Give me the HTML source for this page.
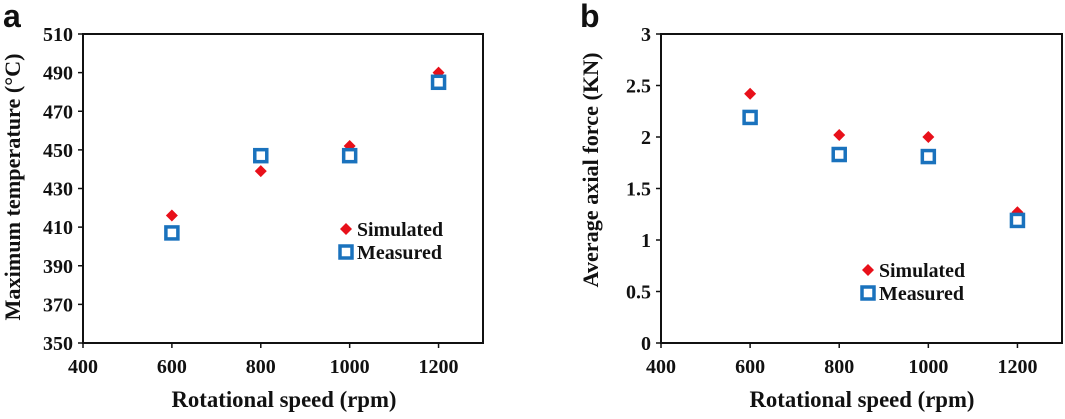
<!DOCTYPE html>
<html><head><meta charset="utf-8"><style>
body{margin:0;background:#fff;}
svg text{font-family:"Liberation Serif",serif;font-weight:bold;fill:#111;}
</style></head><body>
<svg id="c" width="1065" height="414" xmlns="http://www.w3.org/2000/svg"></svg>
<script>
const categories=[600,800,1000,1200];
const xTicks=[400,600,800,1000,1200];
const tempSim=[416,439,452,490];
const tempMeas=[407,447,447,485];
const tempTicks=[350,370,390,410,430,450,470,490,510];
const forceSim=[2.42,2.02,2.0,1.27];
const forceMeas=[2.19,1.83,1.81,1.19];
const forceTicks=[0,0.5,1,1.5,2,2.5,3];
const forceTickLabels=["0","0.5","1","1.5","2","2.5","3"];

const svg=document.getElementById('c');
const NS='http://www.w3.org/2000/svg';
function mk(tag,at,parent){const e=document.createElementNS(NS,tag);for(const k in at)e.setAttribute(k,at[k]);(parent||svg).appendChild(e);return e;}

function panel(o){
  const g=mk('g',{});
  
  
  const xs=v=>o.x0+(v-400)/(1300-400)*(o.x1-o.x0);
  const ys=v=>o.y1-(v-o.ymin)/(o.ymax-o.ymin)*(o.y1-o.y0);
  const fr=mk('rect',{x:o.x0,y:o.y0,width:o.x1-o.x0,height:o.y1-o.y0,fill:'none',stroke:'#111','stroke-width':2},g);
  
  
  o.yTicks.forEach((v,i)=>{
    mk('line',{x1:o.x0-5,x2:o.x0,y1:ys(v),y2:ys(v),stroke:'#111','stroke-width':1.5},g);
    const t=mk('text',{x:o.x0-10,y:ys(v)+7,'text-anchor':'end','font-size':20},g);
    t.textContent=o.yLabels?o.yLabels[i]:v;
    
    
  });
  xTicks.forEach(v=>{
    mk('line',{x1:xs(v),x2:xs(v),y1:o.y1,y2:o.y1+5,stroke:'#111','stroke-width':1.5},g);
    const t=mk('text',{x:xs(v),y:o.y1+30,'text-anchor':'middle','font-size':20},g);
    t.textContent=v;
    
    
  });
  const xt=mk('text',{x:o.xtc,y:407,'text-anchor':'middle','font-size':23,textLength:225,lengthAdjust:'spacingAndGlyphs'},g);
  xt.textContent='Rotational speed (rpm)';
  
  
  const cy=o.ytc;
  const yt=mk('text',{x:o.ytx,y:cy,'text-anchor':'middle','font-size':22,textLength:o.ytl,lengthAdjust:'spacingAndGlyphs',transform:`rotate(-90 ${o.ytx} ${cy})`},g);
  yt.textContent=o.ytitle;
  
  
  const lb=mk('text',{x:o.lx,y:27,'font-size':32,style:'font-family:"Liberation Sans",sans-serif;font-weight:bold'},g);
  lb.textContent=o.letter;
  
  
  const diamond=(x,y)=>mk('path',{d:`M${x} ${y-6}L${x+6} ${y}L${x} ${y+6}L${x-6} ${y}Z`,fill:'#e8101a'},g);
  const square=(x,y)=>mk('rect',{x:x-6,y:y-6,width:12,height:12,fill:'#fff',stroke:'#1a72bd','stroke-width':3.5},g);
  categories.forEach((c,i)=>{
    const d=diamond(xs(c),ys(o.sim[i]));
    
    
    const s=square(xs(c),ys(o.meas[i]));
    
    
  });
  const ld=diamond(o.legx,o.legy);
  
  
  const lt1=mk('text',{x:o.legx+11,y:o.legy+7,'font-size':20,textLength:86,lengthAdjust:'spacingAndGlyphs'},g);
  lt1.textContent='Simulated';
  
  
  const ls=square(o.legx,o.legy+23);
  
  
  const lt2=mk('text',{x:o.legx+11,y:o.legy+30,'font-size':20,textLength:85,lengthAdjust:'spacingAndGlyphs'},g);
  lt2.textContent='Measured';
  
  
}
panel({name:'panel-a-temperature',x0:83,x1:483,y0:34,y1:343,ymin:350,ymax:510,yTicks:tempTicks,sim:tempSim,meas:tempMeas,ytitle:'Maximum temperature (°C)',ytx:20,ytc:187,ytl:267,xtc:284,letter:'a',lx:3,legx:346,legy:229});
panel({name:'panel-b-force',x0:661,x1:1062,y0:34,y1:343,ymin:0,ymax:3,yTicks:forceTicks,yLabels:forceTickLabels,sim:forceSim,meas:forceMeas,ytitle:'Average axial force (KN)',ytx:598,ytc:170,ytl:235,xtc:862,letter:'b',lx:580,legx:868,legy:270});
</script>
</body></html>
